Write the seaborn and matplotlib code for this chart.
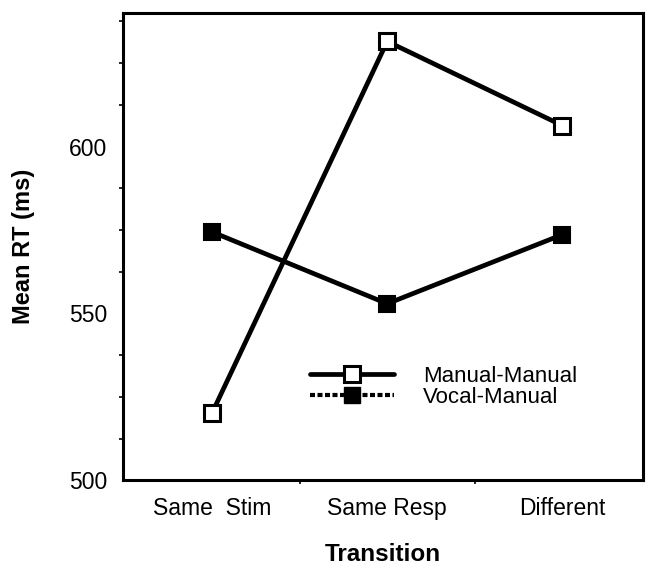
import matplotlib
matplotlib.use("Agg")
import matplotlib.pyplot as plt
from matplotlib.lines import Line2D
import seaborn as sns
import pandas as pd

# ---- data ----
categories = ["Same  Stim", "Same Resp", "Different"]
manual_manual = [520.2, 631.5, 606.3]
vocal_manual = [574.4, 552.9, 573.6]
series_names = ["Manual-Manual", "Vocal-Manual"]
y_ticks = [500, 550, 600]
x_title = "Transition"
y_title = "Mean RT (ms)"

sns.set_theme(style="white")
plt.rcParams["font.family"] = ["Liberation Sans", "DejaVu Sans"]
plt.rcParams["text.color"] = "black"

df_mm = pd.DataFrame({"cat": categories, "rt": manual_manual})
df_vm = pd.DataFrame({"cat": categories, "rt": vocal_manual})

fig = plt.figure(figsize=(6.5, 5.67), dpi=100)
ax = fig.add_axes([0.189, 0.153, 0.800, 0.824])

sns.lineplot(data=df_mm, x="cat", y="rt", ax=ax, color="black", lw=3.4,
             marker="s", markersize=12, markerfacecolor="white",
             markeredgecolor="black", markeredgewidth=2.2, sort=False, zorder=3)
sns.lineplot(data=df_vm, x="cat", y="rt", ax=ax, color="black", lw=3.4,
             marker="s", markersize=12, markerfacecolor="black",
             markeredgecolor="black", markeredgewidth=1.5, sort=False, zorder=3)

ax.set_xlim(-0.51, 2.46)
ax.set_ylim(500, 640)

ax.set_yticks(y_ticks)
ax.set_yticklabels([str(v) for v in y_ticks])
ax.set_yticks([512.5, 525, 537.5, 562.5, 575, 587.5, 612.5, 625, 637.5], minor=True)
ax.set_xticks(range(len(categories)))
ax.set_xticklabels(categories)
ax.set_xticks([0.5, 1.5], minor=True)

for s in ax.spines.values():
    s.set_color("black")
    s.set_linewidth(2.2)
    s.set_visible(True)

ax.tick_params(axis="both", which="major", direction="out", length=5,
               width=1.6, color="black", labelsize=16.5, labelcolor="black")
ax.tick_params(axis="y", which="major", pad=6)
ax.tick_params(axis="x", which="major", pad=7)
ax.tick_params(axis="both", which="minor", direction="out", length=3,
               width=1.2, color="black", left=True, bottom=True)

ax.set_xlabel(x_title, fontsize=17.5, fontweight="bold", color="black")
ax.set_ylabel(y_title, fontsize=17, fontweight="bold", color="black")
ax.xaxis.set_label_coords(0.5, -0.135)
ax.yaxis.set_label_coords(-0.168, 0.5)

handles = [
    Line2D([], [], color="black", lw=3.4, marker="s", markersize=12,
           markerfacecolor="white", markeredgecolor="black", markeredgewidth=2.2),
    Line2D([], [], color="black", lw=3.0, ls=(0, (1.2, 0.6)), marker="s",
           markersize=12, markerfacecolor="black", markeredgecolor="black"),
]
leg = ax.legend(handles, series_names, loc="upper left",
                bbox_to_anchor=(0.36, 0.245), frameon=False, fontsize=16,
                handlelength=3.8, handletextpad=1.3, labelspacing=0.0,
                borderpad=0, borderaxespad=0, labelcolor="black")

fig.savefig("out.png", dpi=100, facecolor="white")
